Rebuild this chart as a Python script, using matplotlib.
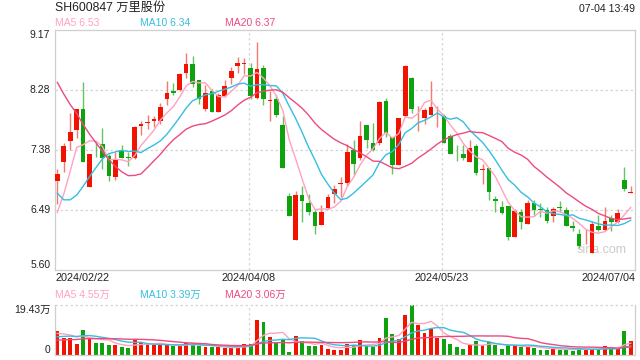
import numpy as np
import pandas as pd
from matplotlib import pyplot as plt

plt.rcParams['font.family'] = ['Liberation Sans', 'Noto Sans CJK SC', 'DejaVu Sans']

# daily candles, 2024/02/22 .. 2024/07/04 (90 trading days)
opens = [6.92, 7.20, 7.52, 7.68, 8.00, 6.84, 7.42, 7.47, 7.30, 6.98,
         7.38, 7.28, 7.26, 7.74, 7.78, 7.82, 7.81, 8.15, 8.27, 8.28,
         8.53, 8.67, 8.43, 7.99, 8.26, 7.95, 8.19, 8.45, 8.63, 8.66,
         8.60, 8.16, 8.61, 8.11, 8.14, 7.75, 6.70, 6.04, 6.72, 6.59,
         6.46, 6.27, 6.52, 6.73, 6.88, 6.90, 7.38, 7.26, 7.76, 7.49,
         7.49, 8.11, 7.58, 7.16, 7.89, 8.45, 7.99, 7.86, 7.90, 7.96,
         7.89, 7.59, 7.39, 7.33, 7.20, 7.45, 7.09, 7.12, 6.66, 6.54,
         6.55, 6.09, 6.47, 6.29, 6.59, 6.50, 6.49, 6.41, 6.54, 6.49,
         6.25, 6.14, 6.07, 5.85, 6.26, 6.19, 6.37, 6.31, 6.94, 6.74]
highs = [7.10, 7.49, 7.94, 7.99, 8.40, 7.32, 7.52, 7.71, 7.32, 7.35,
         7.46, 7.35, 7.74, 7.81, 7.90, 7.89, 8.09, 8.41, 8.38, 8.53,
         8.83, 8.79, 8.43, 8.35, 8.29, 8.24, 8.43, 8.62, 8.77, 8.75,
         8.68, 8.99, 8.65, 8.26, 8.21, 7.89, 6.75, 6.77, 6.85, 6.73,
         6.49, 6.56, 6.73, 6.87, 6.98, 7.47, 7.53, 7.82, 7.76, 7.79,
         8.12, 8.16, 7.58, 7.86, 8.65, 8.47, 8.04, 8.01, 8.41, 8.04,
         7.92, 7.63, 7.46, 7.46, 7.54, 7.47, 7.18, 7.12, 6.70, 6.62,
         6.55, 6.51, 6.51, 6.64, 6.64, 6.59, 6.53, 6.53, 6.62, 6.53,
         6.33, 6.21, 6.21, 6.33, 6.42, 6.53, 6.42, 6.51, 7.13, 6.85]
lows = [6.58, 7.06, 7.38, 7.56, 7.20, 6.83, 7.28, 7.10, 6.92, 6.94,
        7.26, 7.15, 7.25, 7.61, 7.69, 7.72, 7.77, 8.06, 8.21, 8.26,
        8.46, 8.32, 8.07, 7.96, 7.95, 7.95, 8.17, 8.36, 8.53, 8.51,
        8.15, 8.14, 8.06, 7.82, 7.88, 7.11, 6.41, 6.04, 6.32, 6.42,
        6.13, 6.27, 6.51, 6.59, 6.68, 6.85, 7.02, 7.23, 7.42, 7.37,
        7.46, 7.58, 7.03, 7.16, 7.89, 7.94, 7.67, 7.77, 7.90, 7.73,
        7.49, 7.32, 7.22, 7.23, 7.20, 7.01, 6.88, 6.64, 6.46, 6.43,
        6.05, 6.09, 6.21, 6.28, 6.42, 6.39, 6.30, 6.31, 6.46, 6.25,
        6.18, 5.93, 5.99, 5.85, 6.18, 6.18, 6.18, 6.30, 6.77, 6.74]
closes = [7.03, 7.44, 7.66, 7.99, 7.20, 7.32, 7.41, 7.27, 7.00, 7.24,
          7.27, 7.27, 7.72, 7.77, 7.80, 7.84, 8.03, 8.24, 8.24, 8.52,
          8.66, 8.36, 8.14, 8.24, 7.95, 8.21, 8.33, 8.56, 8.68, 8.67,
          8.19, 8.59, 8.14, 8.12, 7.90, 7.11, 6.41, 6.72, 6.63, 6.47,
          6.26, 6.47, 6.68, 6.81, 6.89, 7.35, 7.17, 7.59, 7.53, 7.38,
          8.10, 7.64, 7.16, 7.86, 8.63, 7.99, 8.00, 7.98, 8.03, 7.97,
          7.49, 7.32, 7.38, 7.26, 7.41, 7.05, 7.10, 6.76, 6.63, 6.45,
          6.09, 6.48, 6.32, 6.59, 6.49, 6.49, 6.33, 6.51, 6.52, 6.26,
          6.22, 5.96, 6.08, 6.29, 6.19, 6.33, 6.32, 6.45, 6.80, 6.76]
# volume, 万手
volumes = [9.3, 6.6, 6.6, 4.4, 9.6, 6.1, 4.7, 4.7, 3.8, 3.8,
           3.1, 2.7, 5.7, 4.9, 4.4, 3.8, 3.8, 3.8, 3.4, 3.4,
           4.8, 4.2, 3.4, 2.9, 3.1, 3.1, 2.6, 2.6, 2.9, 4.4,
           4.4, 13.5, 12.7, 6.8, 4.7, 6.0, 1.0, 7.5, 5.2, 3.4,
           3.4, 3.8, 2.5, 2.1, 2.1, 4.4, 3.8, 5.7, 3.4, 2.9,
           6.4, 14.1, 8.0, 6.0, 15.4, 19.3, 11.5, 8.5, 10.0, 6.4,
           6.1, 4.4, 3.1, 2.5, 4.0, 5.3, 3.8, 5.1, 3.8, 2.5,
           4.0, 3.6, 2.9, 3.3, 2.7, 2.1, 2.1, 2.4, 2.1, 2.1,
           1.6, 2.7, 2.3, 2.3, 2.25, 3.4, 2.6, 2.2, 9.2, 5.36]

# sessions before 02/22, estimated from where the MA lines start
prev_closes = [10.9, 10.8, 10.6, 10.5, 10.2, 10.0, 9.8, 9.5, 9.2, 8.9,
               8.42, 7.66, 7.29, 5.90, 5.87, 6.07, 5.96, 6.23, 6.99]
prev_volumes = [4.0, 4.5, 3.8, 4.2, 4.6, 5.0, 4.1, 4.3, 4.5, 5.0,
                5.0, 5.5, 6.0, 6.2, 5.8, 7.5, 8.8, 7.9, 8.0]

tick_idx = [0, 30, 60, 89]
tick_labels = ['2024/02/22', '2024/04/08', '2024/05/23', '2024/07/04']
price_ticks = [9.17, 8.28, 7.38, 6.49, 5.60]
vol_top = 19.43

UP, DOWN = '#f11200', '#0ea20e'
UP_WICK, DOWN_WICK = '#f47a70', '#62c462'
MA_COLORS = {5: '#ffa2bf', 10: '#35bfe0', 20: '#ee4a7e'}
FRAME = '#cfcfcf'
GRID = '#d6d6d6'


def moving_averages(prev, cur):
    s = pd.Series(prev + cur)
    n = len(prev)
    return {k: s.rolling(k).mean().values[n:] for k in (5, 10, 20)}


def style_frame(ax):
    for sp in ax.spines.values():
        sp.set_color(FRAME)
        sp.set_linewidth(0.9)
    ax.set_xticks([])
    ax.set_yticks([])


x = np.arange(len(closes))
o = np.array(opens)
c = np.array(closes)
up = c >= o

fig = plt.figure(figsize=(6.4, 3.6), dpi=100)
ax = fig.add_axes([55 / 640, 1 - 270 / 360, 580 / 640, 240 / 360])
axv = fig.add_axes([55 / 640, 1 - 355 / 360, 580 / 640, 50.5 / 360])

# price panel
for yv in price_ticks[1:-1]:
    ax.axhline(yv, color=GRID, lw=0.9, ls=(0, (2, 2)), zorder=0)
for xi in tick_idx[1:3]:
    ax.axvline(xi - 0.3, color=GRID, lw=0.9, ls=(0, (2, 2)), zorder=0)
    axv.axvline(xi - 0.3, color=GRID, lw=0.9, ls=(0, (2, 2)), zorder=0)

ax.vlines(x, lows, highs, colors=np.where(up, UP_WICK, DOWN_WICK), lw=1.0, zorder=2)
body = np.maximum(np.abs(c - o), 0.012)
ax.bar(x, body, bottom=np.minimum(o, c), width=0.72,
       color=np.where(up, UP, DOWN), lw=0, zorder=3)

mas = moving_averages(prev_closes, closes)
for k, v in mas.items():
    ax.plot(x, v, color=MA_COLORS[k], lw=1.0, zorder=4)

ax.text(0.942, 0.085, 'sina.com', transform=ax.transAxes, ha='center', va='center',
        fontsize=9, color='#cccccc', zorder=1)

ax.set_xlim(-0.36, 89.67)
ax.set_ylim(price_ticks[-1], price_ticks[0])
style_frame(ax)

ytr = ax.get_yaxis_transform()
for yv in price_ticks:
    va = 'top' if yv == price_ticks[0] else ('bottom' if yv == price_ticks[-1] else 'center')
    ax.text(-0.008, yv, '%.2f' % yv, transform=ytr, ha='right', va=va,
            fontsize=7.5, color='#222222')

xtr = ax.get_xaxis_transform()
for xi, lab in zip(tick_idx, tick_labels):
    if xi == tick_idx[0]:
        ax.text(0, -0.035, lab, transform=ax.transAxes, ha='left', va='center',
                fontsize=7.8, color='#222222')
    elif xi == tick_idx[-1]:
        ax.text(1, -0.035, lab, transform=ax.transAxes, ha='right', va='center',
                fontsize=7.8, color='#222222')
    else:
        ax.text(xi - 0.3, -0.035, lab, transform=xtr, ha='center', va='center',
                fontsize=7.8, color='#222222')

# volume panel
axv.bar(x, volumes, width=0.6, color=np.where(up, UP, DOWN), lw=0, zorder=2)
vmas = moving_averages(prev_volumes, volumes)
for k, v in vmas.items():
    axv.plot(x, v, color=MA_COLORS[k], lw=1.0, zorder=3)
axv.set_xlim(-0.36, 89.67)
axv.set_ylim(0, vol_top)
style_frame(axv)
axv.spines['top'].set_visible(False)
axv.axhline(vol_top, color=GRID, lw=0.9, ls=(0, (2, 2)), clip_on=False)
ytr = axv.get_yaxis_transform()
axv.text(-0.008, vol_top, '%.2f万' % vol_top, transform=ytr, ha='right', va='top',
         fontsize=7.5, color='#222222')
axv.text(-0.008, 0, '0', transform=ytr, ha='right', va='bottom',
         fontsize=7.5, color='#222222')

# header and MA legends
fig.text(55 / 640, 1 - 8 / 360, 'SH600847 万里股份', ha='left', va='center',
         fontsize=8.8, color='#222222')
fig.text(635 / 640, 1 - 9.5 / 360, '07-04 13:49', ha='right', va='center',
         fontsize=7.6, color='#222222')
legend_x = [55, 140, 225]
for lx, k in zip(legend_x, (5, 10, 20)):
    fig.text(lx / 640, 1 - 23.5 / 360, 'MA%d %.2f' % (k, mas[k][-1]),
             ha='left', va='center', fontsize=7.5, color=MA_COLORS[k])
    fig.text(lx / 640, 1 - 294.5 / 360, 'MA%d %.2f万' % (k, vmas[k][-1]),
             ha='left', va='center', fontsize=7.5, color=MA_COLORS[k])

fig.savefig('out.png', dpi=100)
